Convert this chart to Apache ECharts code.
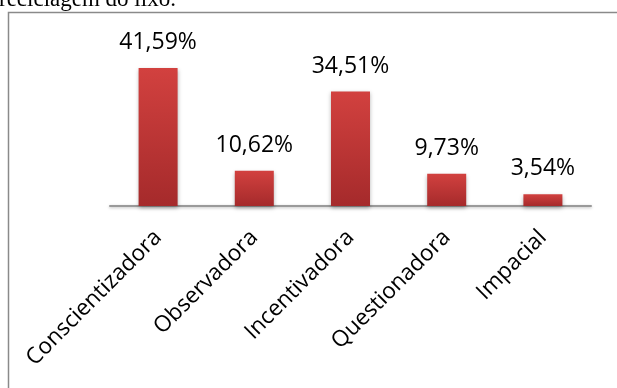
<!DOCTYPE html>
<html><head><meta charset="utf-8">
<script src="https://cdn.jsdelivr.net/npm/echarts@6/dist/echarts.min.js"></script>
<style>html,body{margin:0;padding:0;background:#fff}#c{width:617px;height:388px}</style>
</head><body><div id="c"></div>
<script>
const categories = ['Conscientizadora','Observadora','Incentivadora','Questionadora','Impacial'];
const values = [41.59, 10.62, 34.51, 9.73, 3.54];
const valueLabels = ['41,59%','10,62%','34,51%','9,73%','3,54%'];

const chart = echarts.init(document.getElementById('c'), null, {renderer:'canvas'});
chart.setOption({
  animation:false,
  grid:{left:110, right:26, top:40.1, bottom:182, containLabel:false},
  xAxis:{type:'category', data:categories,
    axisLine:{show:true, lineStyle:{color:'#9a9a9a', width:2, shadowColor:'rgba(0,0,0,0.25)', shadowBlur:3, shadowOffsetY:1}},
    axisTick:{show:false},
    axisLabel:{rotate:45, interval:0, margin:28, color:'#000', fontFamily:'Open Sans', fontSize:22.5}},
  yAxis:{type:'value', min:0, max:50, show:false, splitLine:{show:false}},
  series:[{type:'bar', data:values, barWidth:39,
    itemStyle:{color:new echarts.graphic.LinearGradient(0,0,0,1,[{offset:0,color:'#d2413f'},{offset:1,color:'#a52a2b'}]),
      shadowColor:'rgba(0,0,0,0.3)', shadowBlur:4, shadowOffsetY:2},
    label:{show:true, position:'top', distance:14, color:'#000', fontFamily:'Open Sans', fontSize:23,
      formatter:p=>valueLabels[p.dataIndex]}}],
  graphic:[
    {type:'rect', shape:{x:8.5, y:12.5, width:640, height:400}, style:{fill:'none', stroke:'#8a8a8a', lineWidth:1.5}, z:-1},
    {type:'text', left:-1, top:-12, style:{text:'reciclagem do lixo.', fontFamily:'Liberation Serif', fontSize:23, fill:'#000'}}
  ]
});
</script></body></html>
